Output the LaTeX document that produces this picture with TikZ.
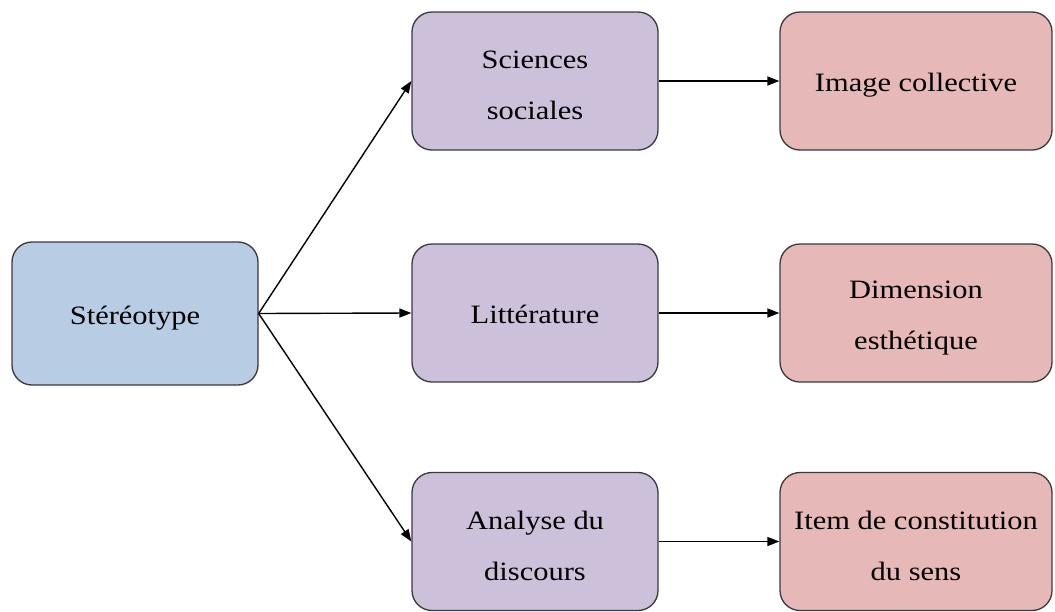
\documentclass[tikz,border=0pt]{standalone}
\usepackage{fontspec}
\setmainfont[FakeStretch=1.15]{Liberation Serif}
\usetikzlibrary{arrows.meta}
\definecolor{bluefill}{HTML}{B8CCE4}
\definecolor{purplefill}{HTML}{CCC0DA}
\definecolor{pinkfill}{HTML}{E6B8B7}
\definecolor{edgegray}{HTML}{3A3A3A}
\newcommand\mytopstrut{\rule{0pt}{27pt}}
\tikzset{
  box/.style={draw=edgegray, line width=1.3pt, rounded corners=20pt, align=center,
    font=\fontsize{26.5}{51}\selectfont, inner sep=0pt},
  oneline/.style={execute at begin node={\rule{0pt}{28pt}},
    execute at end node={\rule[-7pt]{0pt}{7pt}}},
  srcbox/.style={box, fill=bluefill, minimum width=246pt, minimum height=143pt},
  midbox/.style={box, fill=purplefill, minimum width=246pt, minimum height=138pt},
  endbox/.style={box, fill=pinkfill, minimum width=272pt, minimum height=138pt},
  conn/.style={line width=1.4pt, -{Triangle[length=12pt,width=9pt]}}
}
\begin{document}
\begin{tikzpicture}[x=1pt,y=-1pt]
\useasboundingbox (0,0) rectangle (1055,611);
\node[srcbox, oneline] (A) at (135,313.5) {Stéréotype};
\node[midbox] (B1) at (535,81) {\mytopstrut Sciences\\sociales};
\node[midbox, oneline] (B2) at (535,313) {Littérature};
\node[midbox] (B3) at (535,541.5) {\mytopstrut Analyse du\\discours};
\node[endbox, oneline] (C1) at (916,81) {Image collective};
\node[endbox] (C2) at (916,313) {\mytopstrut Dimension\\esthétique};
\node[endbox] (C3) at (916,541.5) {\mytopstrut Item de constitution\\du sens};
\draw[conn] (A.east) -- (B1.west);
\draw[conn] (A.east) -- (B2.west);
\draw[conn] (A.east) -- (B3.west);
\draw[conn] (B1) -- (C1);
\draw[conn] (B2) -- (C2);
\draw[conn] (B3) -- (C3);
\end{tikzpicture}
\end{document}
